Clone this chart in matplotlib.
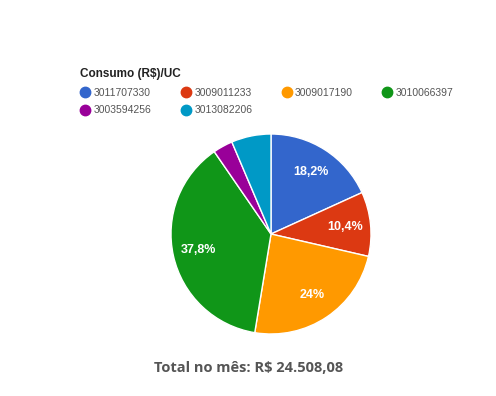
import matplotlib.pyplot as plt
from matplotlib.lines import Line2D

ucs = ['3011707330', '3009011233', '3009017190', '3010066397', '3003594256', '3013082206']
shares = [18.2, 10.4, 24.0, 37.8, 3.2, 6.4]
colors = ['#3366cc', '#dc3912', '#ff9900', '#109618', '#990099', '#0099c6']
legend_title = 'Consumo (R$)/UC'
total_text = 'Total no mês: R$ 24.508,08'

W, H = 496, 396
fig = plt.figure(figsize=(W / 100, H / 100), dpi=100)
fig.patch.set_facecolor('white')


def fmt(p):
    if p < 8:
        return ''
    s = ('%.1f' % p).rstrip('0').rstrip('.')
    return s.replace('.', ',') + '%'


ax = fig.add_axes([170 / W, 61 / H, 202 / W, 202 / H])
wedges, texts, autotexts = ax.pie(
    shares, colors=colors, startangle=90, counterclock=False,
    autopct=fmt, pctdistance=0.74,
    wedgeprops=dict(edgecolor='white', linewidth=1),
    textprops=dict(color='white', fontsize=9, fontweight='bold', family='Liberation Sans'))
ax.set_aspect('equal')
ax.set_xlim(-1.01, 1.01)
ax.set_ylim(-1.01, 1.01)

# legend is filled column by column, so reorder to read row by row
order = [0, 4, 1, 5, 2, 3]
handles = [Line2D([], [], marker='o', linestyle='', markersize=7.5,
                  markerfacecolor=colors[i], markeredgecolor=colors[i]) for i in order]
labels = [ucs[i] for i in order]
leg = fig.legend(handles, labels, loc='upper left', bbox_to_anchor=(76 / W, 1 - 64 / H),
                 ncol=4, frameon=False, title=legend_title, alignment='left',
                 prop=dict(family='Liberation Sans', size=7.5), labelcolor='#555555',
                 handletextpad=0.3, columnspacing=2.8, labelspacing=0.72,
                 handlelength=1.0, borderaxespad=0)
leg.get_title().set_fontsize(8.5)
leg.get_title().set_fontweight('bold')
leg.get_title().set_family('Liberation Sans')
leg.get_title().set_color('#222222')

fig.text(249 / W, 1 - 368 / H, total_text, ha='center', va='center',
         fontsize=10.5, fontweight='bold', color='#555555', family='Open Sans')

fig.savefig('out.png', dpi=100)
